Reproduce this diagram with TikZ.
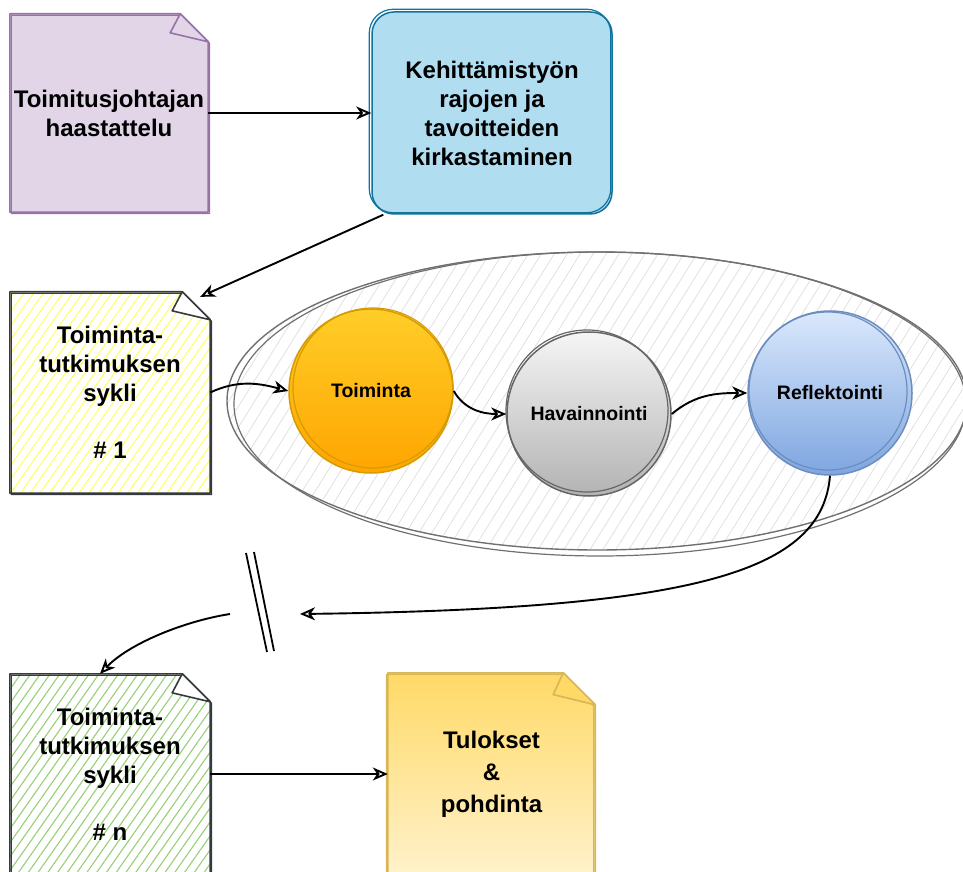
\documentclass[tikz,border=0pt]{standalone}
\usepackage{fontspec}
\setmainfont{Liberation Sans}
\usetikzlibrary{arrows.meta,calc,patterns.meta,shapes.geometric}
\pgfdeclarelayer{background}
\pgfsetlayers{background,main}
\definecolor{purF}{HTML}{E1D5E7}
\definecolor{purS}{HTML}{9673A6}
\definecolor{bluF}{HTML}{B1DDF0}
\definecolor{bluS}{HTML}{10739E}
\definecolor{ntS}{HTML}{36393D}
\definecolor{yelH}{HTML}{FFFF66}
\definecolor{greH}{HTML}{97D077}
\definecolor{orT}{HTML}{FFCD28}
\definecolor{orB}{HTML}{FFA500}
\definecolor{orS}{HTML}{D79B00}
\definecolor{grT}{HTML}{F5F5F5}
\definecolor{grB}{HTML}{B3B3B3}
\definecolor{grS}{HTML}{666666}
\definecolor{blT}{HTML}{DAE8FC}
\definecolor{blB}{HTML}{7EA6E0}
\definecolor{blS}{HTML}{6C8EBF}
\definecolor{tuT}{HTML}{FFD966}
\definecolor{tuB}{HTML}{FFF2CC}
\definecolor{tuS}{HTML}{D6B656}
\definecolor{ellS}{HTML}{707070}
\definecolor{ellH}{HTML}{E0E0E0}
\newcommand\dogear[2]{(#1.north west) -- ($(#1.north east)+(-#2,0)$) -- ($(#1.north east)+(0,-#2)$) -- (#1.south east) -- (#1.south west) -- cycle}
\newcommand\dogfold[2]{($(#1.north east)+(-#2,0)$) -- ($(#1.north east)+(-#2-10,-#2*0.68)$) -- ($(#1.north east)+(0,-#2)$) -- cycle}
\tikzset{
  lbl/.style={font=\fontsize{24}{29}\selectfont\bfseries, align=center, text=black},
  clbl/.style={font=\fontsize{19.5}{23}\selectfont\bfseries, align=center, text=black},
  nbox/.style 2 args={minimum width=#1pt, minimum height=#2pt, inner sep=0pt},
  circ/.style={circle, minimum size=164pt, inner sep=0pt, clbl, line width=1.5pt},
  conn/.style={line width=1.9pt, black, -{Stealth[open, length=15pt, width=13pt, inset=4.5pt, line width=1.9pt]}},
  slash/.style={line width=1.8pt, black},
  nstroke/.style={line width=1.6pt, line join=round},
}
\begin{document}
\begin{tikzpicture}[x=1pt,y=1pt]
\useasboundingbox (0,0) rectangle (963,871);
% notes and boxes
\node[lbl, nbox={198}{198}] (n1) at (109,758) {Toimitusjohtajan\\haastattelu};
\node[lbl, rectangle, rounded corners=22pt, minimum width=240pt, minimum height=202pt, fill=bluF, draw=bluS, line width=1.5pt] (b2) at (492,758) {Kehittämistyön\\rajojen ja\\tavoitteiden\\kirkastaminen};
\node[lbl, nbox={200}{201}] (n3) at (110,478.5) {Toiminta-\\tutkimuksen\\sykli\\[28pt]\# 1};
\node[lbl, nbox={200}{200}] (n6) at (110,97) {Toiminta-\\tutkimuksen\\sykli\\[28pt]\# n};
\node[lbl, font=\fontsize{24}{32}\selectfont\bfseries, nbox={207}{202}] (tu) at (491.5,97) {Tulokset\\\&\\pohdinta};
% big ellipse
\node[ellipse, minimum width=740pt, minimum height=298pt, draw=ellS, line width=1.4pt, pattern={Lines[angle=58,distance=11pt,line width=0.8pt]}, pattern color=ellH] (E) at (597,470) {};
\draw[ellS, line width=1.2pt] ($(E.center)+(3,-3)$) ellipse [x radius=366, y radius=152];
% circles
\node[circ, top color=orT, bottom color=orB, draw=orS] (t) at (371,480) {Toiminta};
\node[circ, top color=grT, bottom color=grB, draw=grS] (h) at (589,457) {Havainnointi};
\node[circ, top color=blT, bottom color=blB, draw=blS] (r) at (830,478) {Reflektointi};
\draw[orS, line width=1.2pt] ($(t.center)+(2,3)$) circle [radius=80];
\draw[grS, line width=1.2pt] ($(h.center)+(-2,3)$) circle [radius=81];
\draw[blS, line width=1.2pt] ($(r.center)+(-2,2)$) circle [radius=79];
% note backgrounds and outlines
\begin{pgfonlayer}{background}
\fill[purF] \dogear{n1}{28};
\fill[white] \dogear{n3}{28};
\fill[pattern={Lines[angle=55,distance=8pt,line width=1.1pt]}, pattern color=yelH] \dogear{n3}{28};
\fill[white] \dogear{n6}{28};
\fill[pattern={Lines[angle=55,distance=8pt,line width=1.1pt]}, pattern color=greH] \dogear{n6}{28};
\shade[top color=tuT, bottom color=tuB] \dogear{tu}{32};
\end{pgfonlayer}
\draw[nstroke, purS] \dogear{n1}{28};
\draw[nstroke, purS, line width=1pt, transform canvas={shift={(1.5,-1.5)}}] \dogear{n1}{28};
\draw[nstroke, purS, fill=purF] \dogfold{n1}{28};
\draw[nstroke, ntS] \dogear{n3}{28};
\draw[nstroke, ntS, line width=1pt, transform canvas={shift={(1.5,-1.5)}}] \dogear{n3}{28};
\draw[nstroke, ntS, fill=white] \dogfold{n3}{28};
\draw[nstroke, ntS] \dogear{n6}{28};
\draw[nstroke, ntS, line width=1pt, transform canvas={shift={(1.5,-1.5)}}] \dogear{n6}{28};
\draw[nstroke, ntS, fill=white] \dogfold{n6}{28};
\draw[nstroke, tuS] \dogear{tu}{32};
\draw[nstroke, tuS, line width=1pt, transform canvas={shift={(-1.5,-1.5)}}] \dogear{tu}{32};
\draw[nstroke, tuS, fill=tuT] \dogfold{tu}{32};
\draw[bluS, line width=1.2pt, rounded corners=24pt, transform canvas={shift={(-2,2)}}] (b2.south west) rectangle (b2.north east);
% connectors
\draw[conn] (n1.east) -- (b2.west);
\draw[conn] ($(b2.south west)+(12,0)$) -- ($(n3.north east)+(-10,-5)$);
\draw[conn] (n3.east) to[out=25,in=165] (t.west);
\draw[conn] (t.east) to[out=-60,in=180] (h.west);
\draw[conn] (h.east) to[out=40,in=180] (r.west);
\coordinate (brk) at (300,257);
\coordinate (brk2) at (230,257);
\draw[conn] (r.south) .. controls (822,300) and (700,262) .. (brk);
\draw[conn] (brk2) .. controls (185,250) and (130,228) .. ($(n6.north)+(-10,0)$);
\draw[conn] (n6.east) -- (tu.west);
% break marks
\coordinate (s1a) at (246,318);
\coordinate (s1b) at (267,219);
\coordinate (s2a) at (254,319);
\coordinate (s2b) at (274,220);
\draw[slash] (s1a) -- (s1b);
\draw[slash] (s2a) -- (s2b);
\end{tikzpicture}
\end{document}
